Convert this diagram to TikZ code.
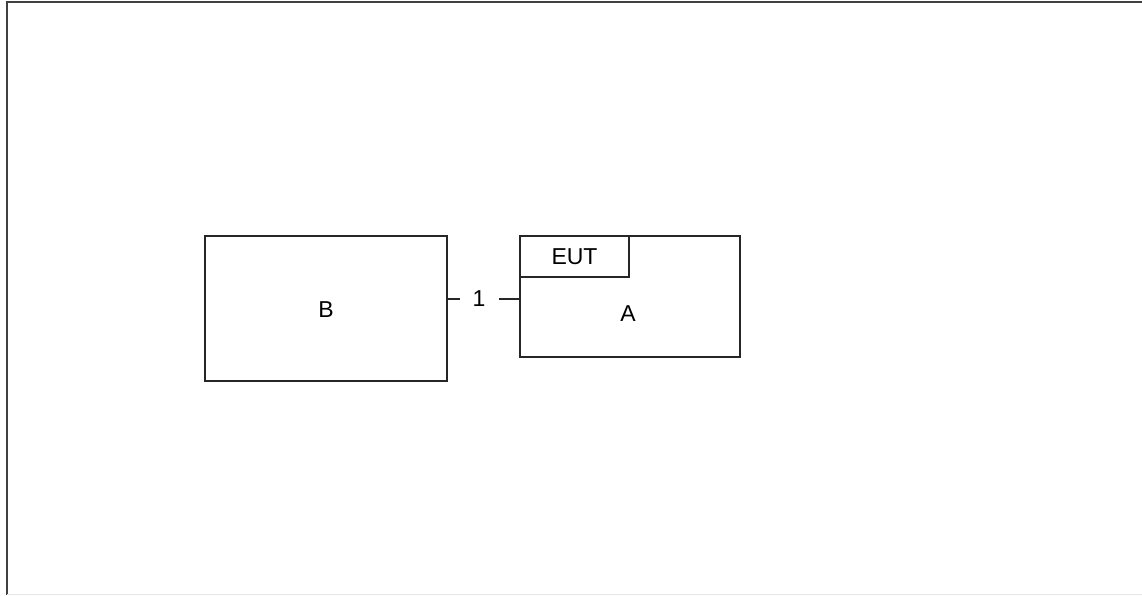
\documentclass[tikz,border=0pt]{standalone}
\usepackage{fontspec}
\setmainfont{Liberation Sans}
\begin{document}
\begin{tikzpicture}[x=1pt,y=-1pt,
  boxstyle/.style={draw=black!85,line width=1.3pt},
  lbl/.style={font=\fontsize{23}{26}\selectfont,text=black,inner sep=0pt},
  wire/.style={draw=black!85,line width=1.3pt}]
\useasboundingbox (0,0) rectangle (1142,595);
% outer frame
\draw[line width=1.5pt,black!75] (1142,2) -- (7,2) -- (7,595);
\draw[line width=1pt,black!10] (7,594) -- (1142,594);
% B
\draw[boxstyle] (205,236) rectangle (447,381);
\node[lbl] (B) at (326,310) {B};
% A
\draw[boxstyle] (520,236) rectangle (740,357);
\draw[boxstyle] (520,236) rectangle (629,277);
\node[lbl] (EUT) at (574.5,257) {EUT};
\node[lbl] (A) at (628,314) {A};
% connector
\coordinate (bR) at (447,299);
\coordinate (aL) at (520,299);
\node[lbl] (one) at (479,299) {1};
\draw[wire] (bR) -- (460,299);
\draw[wire] (499,299) -- (aL);
\end{tikzpicture}
\end{document}
